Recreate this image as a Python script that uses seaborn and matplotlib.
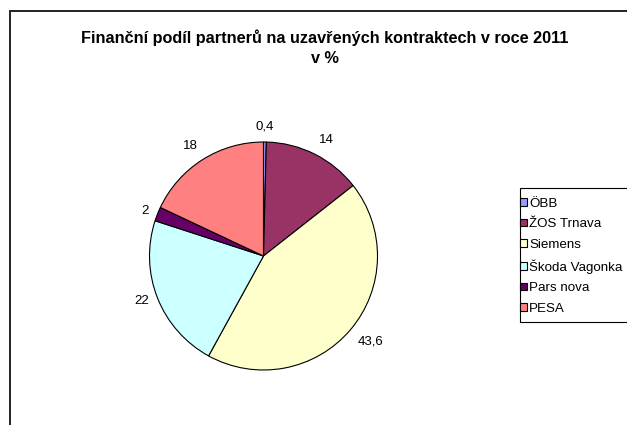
import numpy as np
import matplotlib.pyplot as plt
import matplotlib.patches as mpatches
import seaborn as sns

partners = ['ÖBB', 'ŽOS Trnava', 'Siemens', 'Škoda Vagonka', 'Pars nova', 'PESA']
shares = [0.4, 14, 43.6, 22, 2, 18]
colors = ['#9999FF', '#993366', '#FFFFCC', '#CCFFFF', '#660066', '#FF8080']
title = 'Finanční podíl partnerů na uzavřených kontraktech v roce 2011\nv %'

sns.set_style('white', {'text.color': 'black'})
plt.rcParams['font.family'] = ['Liberation Sans', 'DejaVu Sans']

fig = plt.figure(figsize=(6.27, 4.25), dpi=100)

# outer chart frame, runs off the right and bottom edge
fig.patches.append(mpatches.Rectangle((10 / 627, -0.1), 1.0, (425 - 11) / 425 + 0.1,
                                      transform=fig.transFigure, fill=False,
                                      edgecolor='#222222', lw=1.4))

fig.text(325 / 627, 1 - 47.5 / 425, title, ha='center', va='center',
         fontsize=11.7, fontweight='bold', linespacing=1.4)

ax = fig.add_axes([(263.5 - 114) / 627, (425 - 256 - 114) / 425, 228 / 627, 228 / 425])
wedges, _ = ax.pie(shares, colors=sns.color_palette(colors),
                   startangle=90, counterclock=False,
                   wedgeprops=dict(edgecolor='black', linewidth=0.8))
ax.set_xlim(-1, 1)
ax.set_ylim(-1, 1)
ax.set_aspect('equal')

# value labels just outside the rim, anchored by their near corner (Excel-like)
for w, v in zip(wedges, shares):
    ang = np.deg2rad((w.theta1 + w.theta2) / 2)
    c, s = np.cos(ang), np.sin(ang)
    ha = 'center' if abs(c) < 0.1 else ('left' if c > 0 else 'right')
    va = 'center' if abs(s) < 0.5 else ('bottom' if s > 0 else 'top')
    ax.text(1.08 * c, 1.08 * s, f'{v:g}'.replace('.', ','), ha=ha, va=va,
            fontsize=9.5, clip_on=False)

# legend box, cut off by the right edge like the original
fig.patches.append(mpatches.Rectangle((519.5 / 627, 1 - 322 / 425), 0.3, (322 - 188) / 425,
                                      transform=fig.transFigure, fill=False,
                                      edgecolor='black', lw=0.8))
fig.legend(wedges, partners, loc='upper left',
           bbox_to_anchor=(520 / 627, 1 - 198 / 425), frameon=False,
           fontsize=9.6, handlelength=0.5, handleheight=0.5, handletextpad=0.2,
           labelspacing=0.63, borderpad=0, borderaxespad=0)

fig.savefig('out.png', dpi=100)
